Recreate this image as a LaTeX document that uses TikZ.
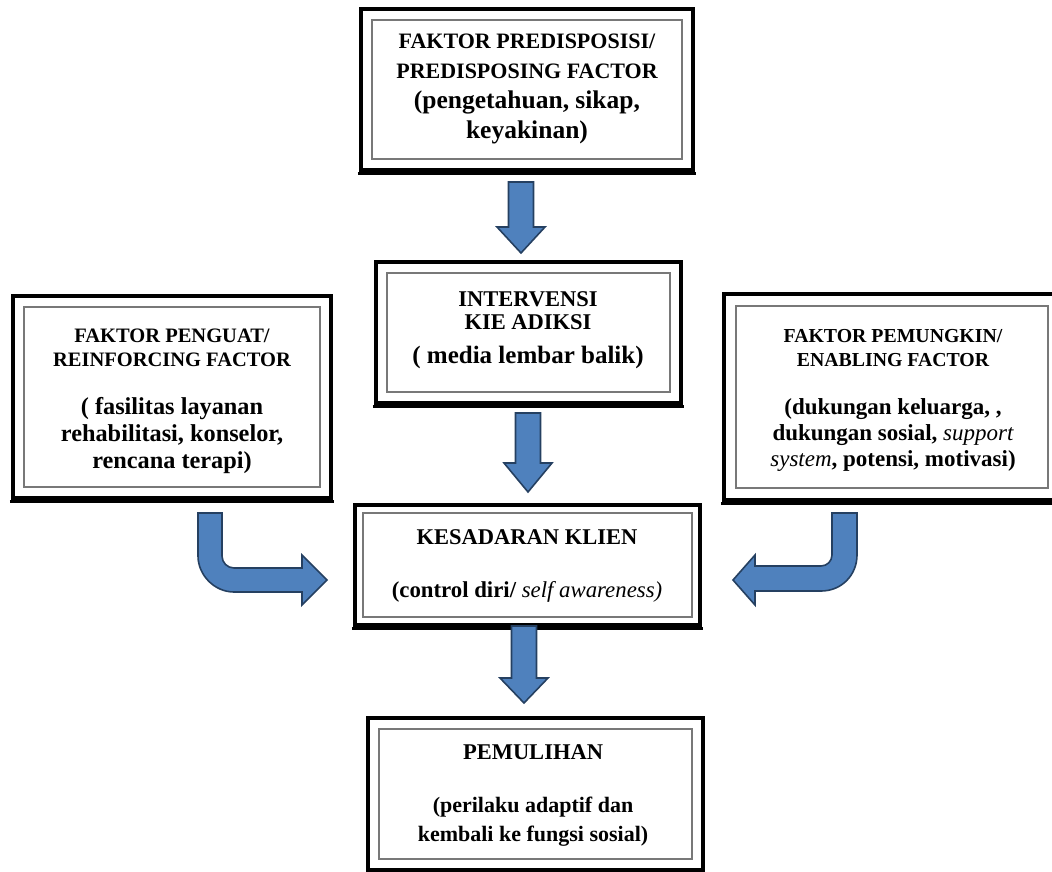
\documentclass[tikz,border=0pt]{standalone}
\usepackage{fontspec}
\setmainfont{Liberation Serif}
\definecolor{arrowblue}{RGB}{79,129,189}
\definecolor{arrowedge}{RGB}{37,64,97}
\definecolor{innergray}{RGB}{120,120,120}
\newcommand{\vblk}[4]{%
  \draw[blockarrow] (#1-12.5,#2) -- (#1+12.5,#2) -- (#1+12.5,#3) -- (#1+24,#3) -- (#1,#4) -- (#1-24,#3) -- (#1-12.5,#3) -- cycle;}
\begin{document}
\begin{tikzpicture}[x=1pt,y=-1pt,
  framebox/.style={draw, line width=3.2pt, rectangle, inner sep=0pt,
    path picture={\draw[line width=1.2pt, innergray]
      ([shift={(#1,-#1)}]path picture bounding box.north west) rectangle
      ([shift={(-#1,#1)}]path picture bounding box.south east);}},
  framebox/.default=11pt,
  boxtext/.style={align=center, inner sep=0pt, font=\bfseries},
  blockarrow/.style={fill=arrowblue, draw=arrowedge, line width=1.6pt, line join=miter}]
\useasboundingbox (0,0) rectangle (1052,871);

% frames
\node[framebox, minimum width=332pt, minimum height=161pt] (pre) at (527,89.5) {};
\node[framebox, minimum width=305pt, minimum height=141pt] (kie) at (528.5,332.5) {};
\node[framebox, minimum width=318pt, minimum height=202pt] (reinf) at (172,397) {};
\node[framebox=12pt, minimum width=336pt, minimum height=206pt] (enab) at (892,397) {};
\node[framebox=8pt, minimum width=345pt, minimum height=120pt] (kes) at (527.5,565) {};
\node[framebox, minimum width=335pt, minimum height=152pt] (pem) at (535.5,794) {};
\foreach \n in {pre,kie,reinf,enab,kes,pem}
  \draw[line width=3pt] ([shift={(-1.6pt,-2pt)}]\n.south west) -- ([shift={(1.6pt,-2pt)}]\n.south east);

% texts
\node[boxtext, font=\bfseries\fontsize{22}{30}\selectfont] (preT) at (527,89)
  {FAKTOR PREDISPOSISI/\\PREDISPOSING FACTOR\\{\fontsize{25.5}{30}\selectfont (pengetahuan, sikap,}\\{\fontsize{25.5}{30}\selectfont keyakinan)}};
\node[boxtext, font=\bfseries\fontsize{22.5}{23}\selectfont] (kieT) at (528,330.5)
  {INTERVENSI\\KIE ADIKSI\\[11pt]{\fontsize{25}{23}\selectfont ( media lembar balik)}};
\node[boxtext, font=\bfseries\fontsize{20.5}{24}\selectfont] (reinfT) at (172,401)
  {FAKTOR PENGUAT/\\REINFORCING FACTOR\\[24pt]{\fontsize{24.3}{24}\selectfont ( fasilitas layanan}\\[3pt]{\fontsize{24.3}{24}\selectfont rehabilitasi, konselor,}\\[3pt]{\fontsize{24.3}{24}\selectfont rencana terapi)}};
\node[boxtext, font=\bfseries\fontsize{19.8}{24}\selectfont] (enabT) at (893,400)
  {FAKTOR PEMUNGKIN/\\ENABLING FACTOR\\[24pt]{\fontsize{23}{24}\selectfont (dukungan keluarga, ,}\\[2pt]{\fontsize{23}{24}\selectfont dukungan sosial, {\mdseries\itshape support}}\\[2pt]{\fontsize{23}{24}\selectfont {\mdseries\itshape system}, potensi, motivasi)}};
\node[boxtext, font=\bfseries\fontsize{22.5}{24}\selectfont] (kesT) at (527,565.5)
  {KESADARAN KLIEN\\[29pt]{\fontsize{22.8}{24}\selectfont (control diri/ {\mdseries\itshape self awareness)}}};
\node[boxtext, font=\bfseries\fontsize{22.5}{29}\selectfont] (pemT) at (533,795)
  {PEMULIHAN\\[24pt]{\fontsize{22}{29}\selectfont (perilaku adaptif dan}\\{\fontsize{22}{29}\selectfont kembali ke fungsi sosial)}};

% straight block arrows
\vblk{521}{182}{227}{253}
\vblk{528}{413}{463}{492}
\vblk{524}{626}{678}{703}

% bent block arrow, left
\draw[blockarrow] (198,513) -- (198,556)
  .. controls (198,574.8) and (214.2,592) .. (234,592)
  -- (302,592) -- (302,605) -- (327,580) -- (302,555) -- (302,568) -- (234,568)
  .. controls (227.4,568) and (222,562.6) .. (222,556)
  -- (222,513) -- cycle;
% bent block arrow, right
\draw[blockarrow] (857,513) -- (857,555)
  .. controls (857,574.8) and (841.8,591) .. (821,591)
  -- (755,591) -- (755,605) -- (733,580) -- (755,555) -- (755,566) -- (821,566)
  .. controls (827.1,566) and (832,561.1) .. (832,555)
  -- (832,513) -- cycle;
\end{tikzpicture}
\end{document}
